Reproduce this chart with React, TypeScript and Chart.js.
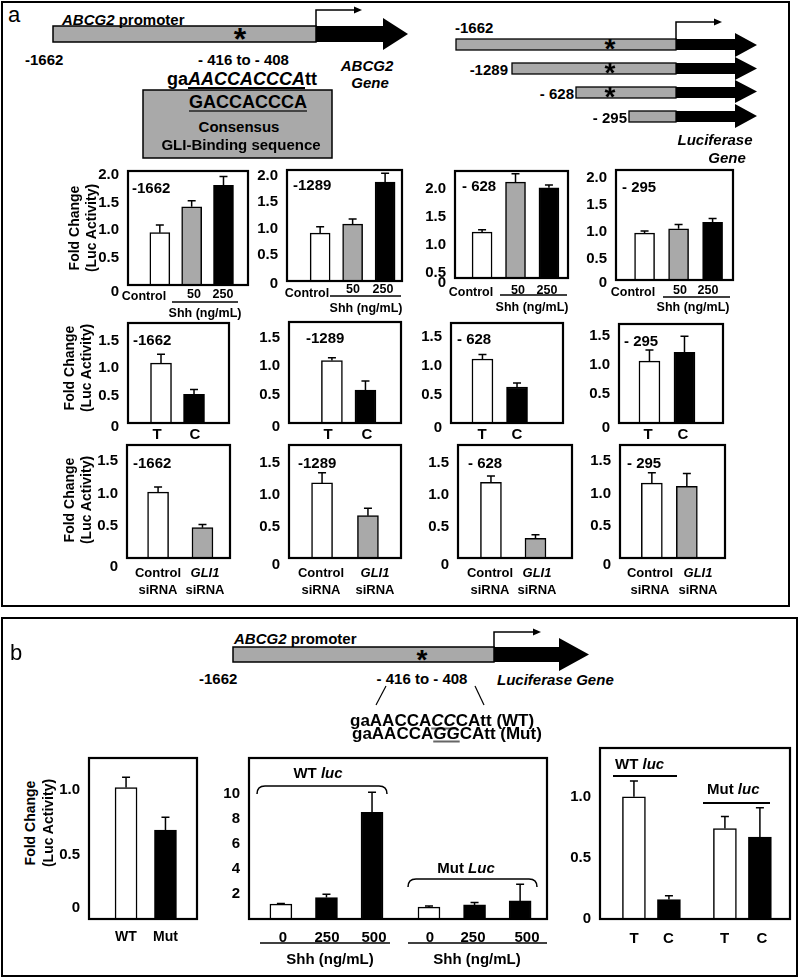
import React, { useEffect, useRef } from 'react';
import { Chart, registerables } from 'chart.js';

Chart.register(...registerables);

const FONT = '"Liberation Sans", Arial, Helvetica, sans-serif';
const WHITE = '#ffffff';
const GREY = '#a9a9a9';
const BLACK = '#000000';

// ---------------- data ----------------
const PROMOTERS = ['-1662', '-1289', '- 628', '- 295'];

const SHH_DOSES = ['Control', '50', '250'];
const SHH_FOLD = [
  [0.95, 1.42, 1.81],
  [0.91, 1.08, 1.88],
  [1.23, 2.12, 2.02],
  [0.98, 1.06, 1.18],
];
const SHH_ERR = [
  [0.14, 0.11, 0.16],
  [0.12, 0.1, 0.17],
  [0.04, 0.15, 0.05],
  [0.04, 0.08, 0.07],
];

const TC_GROUPS = ['T', 'C'];
const TC_FOLD = [
  [1.09, 0.52],
  [1.1, 0.58],
  [1.12, 0.63],
  [1.07, 1.22],
];
const TC_ERR = [
  [0.16, 0.09],
  [0.05, 0.16],
  [0.08, 0.07],
  [0.19, 0.28],
];

const SI_GROUPS = ['Control', 'GLI1'];
const SI_FOLD = [
  [1.02, 0.47],
  [1.19, 0.67],
  [1.2, 0.31],
  [1.16, 1.11],
];
const SI_ERR = [
  [0.08, 0.05],
  [0.16, 0.12],
  [0.1, 0.06],
  [0.16, 0.2],
];

const B_CONSTRUCTS = ['WT', 'Mut'];
const B_FOLD = [1.02, 0.69];
const B_ERR = [0.08, 0.1];

const B_SHH_DOSES = ['0', '250', '500'];
const WT_LUC = [1.19, 1.72, 8.55];
const WT_LUC_ERR = [0.05, 0.26, 1.6];
const MUT_LUC = [0.95, 1.13, 1.45];
const MUT_LUC_ERR = [0.1, 0.19, 1.33];

const B_TC = ['T', 'C'];
const WT_TC = [1.0, 0.16];
const WT_TC_ERR = [0.13, 0.03];
const MUT_TC = [0.74, 0.67];
const MUT_TC_ERR = [0.1, 0.24];

const A_TICKS = [0.5, 1.0, 1.5, 2.0];
const A23_TICKS = [0.5, 1.0, 1.5];
const BM_TICKS = [2, 4, 6, 8, 10];
const BS_TICKS = [0.5, 1.0];

// ---------------- layout ----------------
const AXW = 50;
const PT = 22;
const PB = 22;
const PR = 4;

type Tick = { v: number; t: string };
type BarCfg = {
  box: number[];
  yRange: number[];
  xRange: number[];
  ticks: Tick[];
  pos: number[];
  vals: number[];
  errs: number[];
  colors: string[];
  bw: number;
};

const dec = (arr: number[]) => arr.map((v) => ({ v, t: v.toFixed(1) }));

const R1_BOX = [[128, 171, 248, 285], [287, 170, 402, 281], [455, 171, 568, 278], [616, 170, 733, 280]];
const R1_Y = [[0, 2.07], [0, 2.11], [0.41, 2.32], [0.11, 2.15]];
const R1_ZERO = [-0.12, -0.06, 0.32, 0.06];
const R1_X = [[0, 3.77], [-0.02, 3.52], [0.19, 3.57], [0.16, 3.6]];

const R2_BOX = [[128, 323, 229, 423], [289, 322, 401, 423], [451, 323, 563, 423], [619, 324, 723, 423]];
const R2_Y = [[0, 1.82], [0, 1.78], [0, 1.75], [0, 1.71]];
const R2_ZERO = [-0.07, -0.07, -0.09, -0.09];
const R2_X = [[0, 3.06], [-0.28, 3.06], [0.09, 3.33], [0.13, 3.1]];

const R3_BOX = [[127, 445, 230, 558], [289, 445, 401, 558], [458, 445, 572, 558], [620, 445, 725, 558]];
const R3_Y = [[0, 1.75], [0, 1.79], [0, 1.79], [0, 1.75]];
const R3_ZERO = [-0.13, -0.11, -0.11, -0.11];
const R3_X = [[0.3, 2.62], [0.28, 2.72], [0.26, 2.82], [0.09, 3.09]];

const idx = (n: number) => Array.from({ length: n }, (_, i) => i + 1);

const row1: BarCfg[] = PROMOTERS.map((_, k) => ({
  box: R1_BOX[k],
  yRange: R1_Y[k],
  xRange: R1_X[k],
  ticks: [{ v: R1_ZERO[k], t: '0' }, ...dec(A_TICKS)],
  pos: idx(SHH_DOSES.length),
  vals: SHH_FOLD[k],
  errs: SHH_ERR[k],
  colors: [WHITE, GREY, BLACK],
  bw: 20,
}));

const row2: BarCfg[] = PROMOTERS.map((_, k) => ({
  box: R2_BOX[k],
  yRange: R2_Y[k],
  xRange: R2_X[k],
  ticks: [{ v: R2_ZERO[k], t: '0' }, ...dec(A23_TICKS)],
  pos: idx(TC_GROUPS.length),
  vals: TC_FOLD[k],
  errs: TC_ERR[k],
  colors: [WHITE, BLACK],
  bw: 21,
}));

const row3: BarCfg[] = PROMOTERS.map((_, k) => ({
  box: R3_BOX[k],
  yRange: R3_Y[k],
  xRange: R3_X[k],
  ticks: [{ v: R3_ZERO[k], t: '0' }, ...dec(A23_TICKS)],
  pos: idx(SI_GROUPS.length),
  vals: SI_FOLD[k],
  errs: SI_ERR[k],
  colors: [WHITE, GREY],
  bw: 21,
}));

const bLeft: BarCfg = {
  box: [89, 758, 197, 919],
  yRange: [0, 1.25],
  xRange: [0.06, 2.8],
  ticks: [{ v: 0.085, t: '0' }, ...dec(BS_TICKS)],
  pos: idx(B_CONSTRUCTS.length),
  vals: B_FOLD,
  errs: B_ERR,
  colors: [WHITE, BLACK],
  bw: 22,
};

const bMid: BarCfg = {
  box: [249, 758, 547, 919],
  yRange: [0, 12.9],
  xRange: [0.3, 6.84],
  ticks: BM_TICKS.map((v) => ({ v, t: String(v) })),
  pos: [...B_SHH_DOSES.map((_, i) => i + 1), ...B_SHH_DOSES.map((_, i) => i + 1 + B_SHH_DOSES.length + 0.25)],
  vals: [...WT_LUC, ...MUT_LUC],
  errs: [...WT_LUC_ERR, ...MUT_LUC_ERR],
  colors: [WHITE, BLACK, BLACK, WHITE, BLACK, BLACK],
  bw: 22,
};

const bRight: BarCfg = {
  box: [600, 748, 790, 919],
  yRange: [0, 1.4],
  xRange: [0.03, 5.46],
  ticks: [{ v: 0, t: '0' }, ...dec(BS_TICKS)],
  pos: [...B_TC.map((_, i) => i + 1), ...B_TC.map((_, i) => i + 1 + B_TC.length + 0.6)],
  vals: [...WT_TC, ...MUT_TC],
  errs: [...WT_TC_ERR, ...MUT_TC_ERR],
  colors: [WHITE, BLACK, WHITE, BLACK],
  bw: 23,
};

// ---------------- chart component ----------------
function BarPanel({ cfg }: { cfg: BarCfg }) {
  const ref = useRef<HTMLCanvasElement>(null);
  const [l, t, r, b] = cfg.box;
  const W = AXW + (r - l) + PR;
  const H = PT + (b - t) + PB;

  useEffect(() => {
    const errPlugin = {
      id: 'errbars',
      afterDatasetsDraw(chart: any) {
        const { ctx } = chart;
        const xs = chart.scales.x;
        const ys = chart.scales.y;
        ctx.save();
        ctx.strokeStyle = '#000';
        ctx.lineWidth = 1.5;
        cfg.pos.forEach((p, i) => {
          const px = xs.getPixelForValue(p);
          const y0 = ys.getPixelForValue(cfg.vals[i]);
          const y1 = ys.getPixelForValue(cfg.vals[i] + cfg.errs[i]);
          ctx.beginPath();
          ctx.moveTo(px, y0);
          ctx.lineTo(px, y1);
          ctx.moveTo(px - 4, y1);
          ctx.lineTo(px + 4, y1);
          ctx.stroke();
        });
        ctx.restore();
      },
    };
    const boxPlugin = {
      id: 'plotbox',
      afterDraw(chart: any) {
        const { ctx, chartArea: a } = chart;
        ctx.save();
        ctx.strokeStyle = '#000';
        ctx.lineWidth = 2.2;
        ctx.strokeRect(a.left, a.top, a.right - a.left, a.bottom - a.top);
        ctx.restore();
      },
    };
    const ticks = cfg.ticks;
    const chart = new Chart(ref.current as HTMLCanvasElement, {
      type: 'bar',
      data: {
        datasets: [
          {
            data: cfg.pos.map((p, i) => ({ x: p, y: cfg.vals[i] })),
            backgroundColor: cfg.colors,
            borderColor: '#000',
            borderWidth: 1.5,
            barThickness: cfg.bw,
          } as any,
        ],
      },
      options: {
        animation: false,
        responsive: false,
        events: [],
        layout: { padding: { left: 0, right: PR, top: PT, bottom: PB } },
        plugins: { legend: { display: false }, tooltip: { enabled: false } },
        scales: {
          x: { type: 'linear', min: cfg.xRange[0], max: cfg.xRange[1], display: false, offset: false },
          y: {
            type: 'linear',
            min: cfg.yRange[0],
            max: cfg.yRange[1],
            grid: { display: false, drawTicks: false },
            border: { display: false },
            afterBuildTicks: (s: any) => {
              s.ticks = ticks.map((tk) => ({ value: tk.v }));
            },
            afterFit: (s: any) => {
              s.width = AXW;
            },
            ticks: {
              padding: 9,
              autoSkip: false,
              color: '#000',
              font: { family: FONT, size: 15, weight: 'bold' },
              callback: (_v: any, i: number) => (ticks[i] ? ticks[i].t : ''),
            },
          } as any,
        },
      } as any,
      plugins: [errPlugin, boxPlugin],
    });
    return () => chart.destroy();
  }, []);

  return (
    <canvas
      ref={ref}
      width={W}
      height={H}
      style={{ position: 'absolute', left: l - AXW, top: t - PT, width: W, height: H, display: 'block' }}
    />
  );
}

// ---------------- text helpers ----------------
type TxtProps = {
  x: number;
  y: number;
  s?: number;
  a?: 'start' | 'middle' | 'end';
  w?: number;
  i?: boolean;
  rot?: boolean;
  children: React.ReactNode;
};
function Txt({ x, y, s = 15, a = 'start', w = 700, i = false, rot = false, children }: TxtProps) {
  const tx = a === 'start' ? '0' : a === 'middle' ? '-50%' : '-100%';
  return (
    <div
      style={{
        position: 'absolute',
        left: x,
        top: y,
        transform: rot ? 'translate(-50%, -50%) rotate(-90deg)' : `translate(${tx}, -50%)`,
        fontFamily: FONT,
        fontSize: s,
        fontWeight: w,
        fontStyle: i ? 'italic' : 'normal',
        lineHeight: 1,
        whiteSpace: 'nowrap',
        color: '#000',
      }}
    >
      {children}
    </div>
  );
}

const U = ({ children, c = '#000' }: { children: React.ReactNode; c?: string }) => (
  <span
    style={{
      textDecoration: 'underline',
      textDecorationColor: c,
      textDecorationThickness: '1.5px',
      textUnderlineOffset: '2px',
    }}
  >
    {children}
  </span>
);

const Star = ({ x, y, s = 30 }: { x: number; y: number; s?: number }) => (
  <Txt x={x} y={y + 0.224 * s} s={s} a="middle">
    *
  </Txt>
);

function arrowPoly(x0: number, xh: number, xt: number, y0: number, y1: number, h0: number, h1: number) {
  const ym = (h0 + h1) / 2;
  return `${x0},${y0} ${xh},${y0} ${xh},${h0} ${xt},${ym} ${xh},${h1} ${xh},${y1} ${x0},${y1}`;
}

// construct diagram layout (top right)
const CONSTRUCT_START = [456, 512, 576, 629];
const CONSTRUCT_Y = [[39, 50], [63, 74], [87, 98], [111, 122]];
const CONSTRUCT_HEAD = [[33, 57], [57, 80], [80, 103], [104, 128]];

const R1_LBL = [
  { c: 144, d: [194, 223], dy: 294, cy: 296, line: [172, 238, 302], shh: [205, 313], in: [132, 187] },
  { c: 307, d: [353, 383], dy: 289, cy: 293, line: [330, 401, 296], shh: [366, 308], in: [293, 184] },
  { c: 471, d: [518, 547], dy: 290, cy: 292, line: [500, 567, 295], shh: [532, 307], in: [462, 185] },
  { c: 633, d: [680, 708], dy: 290, cy: 292, line: [663, 730, 297], shh: [693, 307], in: [622, 186] },
];
const R2_LBL = [
  { t: [157, 195], in: [133, 339] },
  { t: [328, 367], in: [306, 337] },
  { t: [482, 517], in: [457, 338] },
  { t: [648, 683], in: [624, 340] },
];
const R3_LBL = [
  { t: [158, 205], in: [133, 462] },
  { t: [321, 375], in: [298, 462] },
  { t: [490, 537], in: [468, 462] },
  { t: [650, 698], in: [627, 462] },
];

export default function App() {
  return (
    <div style={{ position: 'absolute', left: 0, top: 0, width: 800, height: 979, background: '#fff', overflow: 'hidden' }}>
      <svg width={800} height={979} style={{ position: 'absolute', left: 0, top: 0 }}>
        {/* panel borders */}
        <rect x={2} y={2} width={787} height={604} fill="none" stroke="#000" strokeWidth={2} />
        <rect x={2} y={618} width={795} height={358} fill="none" stroke="#000" strokeWidth={2} />

        {/* panel a: promoter diagram */}
        <rect x={53} y={26} width={263} height={16} fill={GREY} stroke="#000" strokeWidth={1.5} />
        <polygon points={arrowPoly(316, 383, 408, 26, 42, 18, 50)} fill="#000" />
        <polyline points="316,26 316,10 356,10" fill="none" stroke="#000" strokeWidth={1.5} />
        <polygon points="354,6.5 362,10 354,13.5" fill="#000" />
        <rect x={143} y={90} width={189} height={68} fill={GREY} stroke="#000" strokeWidth={1.5} />

        {/* panel a: deletion constructs */}
        {CONSTRUCT_START.map((x0, k) => (
          <g key={k}>
            <rect x={x0} y={CONSTRUCT_Y[k][0]} width={676 - x0} height={CONSTRUCT_Y[k][1] - CONSTRUCT_Y[k][0]} fill={GREY} stroke="#000" strokeWidth={1.3} />
            <polygon points={arrowPoly(676, 735, 757, CONSTRUCT_Y[k][0], CONSTRUCT_Y[k][1], CONSTRUCT_HEAD[k][0], CONSTRUCT_HEAD[k][1])} fill="#000" />
          </g>
        ))}
        <polyline points="676,39 676,22 716,22" fill="none" stroke="#000" strokeWidth={1.5} />
        <polygon points="714,18.5 722,22 714,25.5" fill="#000" />

        {/* row 1 Shh underlines */}
        {R1_LBL.map((o, k) => (
          <line key={k} x1={o.line[0]} x2={o.line[1]} y1={o.line[2]} y2={o.line[2]} stroke="#000" strokeWidth={1.5} />
        ))}

        {/* panel b: promoter diagram */}
        <rect x={233} y={647} width={261} height={15} fill={GREY} stroke="#000" strokeWidth={1.5} />
        <polygon points={arrowPoly(494, 559, 589, 647, 662, 638, 671)} fill="#000" />
        <polyline points="494,647 494,632 535,632" fill="none" stroke="#000" strokeWidth={1.5} />
        <polygon points="533,628.5 541,632 533,635.5" fill="#000" />
        <line x1={386} y1={686} x2={376} y2={705} stroke="#000" strokeWidth={1.2} />
        <line x1={475} y1={686} x2={484} y2={705} stroke="#000" strokeWidth={1.2} />

        {/* panel b brackets and lines */}
        <path d="M257,794 Q257,786 265,786 L379,786 Q387,786 387,794" fill="none" stroke="#000" strokeWidth={1.5} />
        <path d="M408,887 Q408,879 416,879 L529,879 Q537,879 537,887" fill="none" stroke="#000" strokeWidth={1.5} />
        <line x1={260} x2={390} y1={943} y2={943} stroke="#000" strokeWidth={1.5} />
        <line x1={408} x2={547} y1={943} y2={943} stroke="#000" strokeWidth={1.5} />
        <line x1={613} x2={677} y1={776} y2={776} stroke="#000" strokeWidth={2} />
        <line x1={703} x2={770} y1={803} y2={803} stroke="#000" strokeWidth={2} />
      </svg>

      {/* charts */}
      {row1.map((c, k) => (
        <BarPanel key={'r1' + k} cfg={c} />
      ))}
      {row2.map((c, k) => (
        <BarPanel key={'r2' + k} cfg={c} />
      ))}
      {row3.map((c, k) => (
        <BarPanel key={'r3' + k} cfg={c} />
      ))}
      <BarPanel cfg={bLeft} />
      <BarPanel cfg={bMid} />
      <BarPanel cfg={bRight} />

      {/* ---- panel a texts ---- */}
      <Txt x={8} y={15} s={22} w={400}>a</Txt>
      <Txt x={62} y={18.5}>
        <i>ABCG2</i> promoter
      </Txt>
      <Star x={240} y={32} s={32} />
      <Txt x={25} y={58.5}>-1662</Txt>
      <Txt x={243.5} y={58.5} a="middle">- 416 to - 408</Txt>
      <Txt x={167} y={79} s={18}>
        ga<U><i>AACCACCCA</i></U>tt
      </Txt>
      <Txt x={367} y={65} a="middle" i>ABCG2</Txt>
      <Txt x={370} y={82} a="middle" i>Gene</Txt>
      <Txt x={248} y={101.5} s={18} a="middle">
        <U c="#444">GACCACCCA</U>
      </Txt>
      <Txt x={239} y={125.5} a="middle">Consensus</Txt>
      <Txt x={241} y={143.5} a="middle">GLI-Binding sequence</Txt>

      <Txt x={455} y={27}>{PROMOTERS[0]}</Txt>
      <Txt x={508} y={69} a="end">{PROMOTERS[1]}</Txt>
      <Txt x={574} y={93} a="end">{PROMOTERS[2]}</Txt>
      <Txt x={627} y={117} a="end">{PROMOTERS[3]}</Txt>
      <Star x={610} y={43} s={28} />
      <Star x={610} y={67} s={28} />
      <Star x={610} y={91} s={28} />
      <Txt x={715} y={138.5} a="middle" i>Luciferase</Txt>
      <Txt x={727} y={157} a="middle" i>Gene</Txt>

      {/* y-axis titles */}
      {[[74, 91, 228], [69, 86, 368], [69, 86, 500], [30, 47.5, 823]].map((p, k) => (
        <React.Fragment key={'yt' + k}>
          <Txt x={p[0]} y={p[2]} s={14} rot>Fold Change</Txt>
          <Txt x={p[1]} y={p[2]} s={14} rot>(Luc Activity)</Txt>
        </React.Fragment>
      ))}

      {/* row 1 labels */}
      {R1_LBL.map((o, k) => (
        <React.Fragment key={'l1' + k}>
          <Txt x={o.in[0]} y={o.in[1]}>{PROMOTERS[k]}</Txt>
          <Txt x={o.c} y={o.cy} s={12.5} a="middle">{SHH_DOSES[0]}</Txt>
          <Txt x={o.d[0]} y={o.dy} s={12.5} a="middle">{SHH_DOSES[1]}</Txt>
          <Txt x={o.d[1]} y={o.dy} s={12.5} a="middle">{SHH_DOSES[2]}</Txt>
          <Txt x={o.shh[0]} y={o.shh[1]} s={12.5} a="middle">Shh (ng/mL)</Txt>
        </React.Fragment>
      ))}

      {/* row 2 labels */}
      {R2_LBL.map((o, k) => (
        <React.Fragment key={'l2' + k}>
          <Txt x={o.in[0]} y={o.in[1]}>{PROMOTERS[k]}</Txt>
          <Txt x={o.t[0]} y={433} a="middle">{TC_GROUPS[0]}</Txt>
          <Txt x={o.t[1]} y={433} a="middle">{TC_GROUPS[1]}</Txt>
        </React.Fragment>
      ))}

      {/* row 3 labels */}
      {R3_LBL.map((o, k) => (
        <React.Fragment key={'l3' + k}>
          <Txt x={o.in[0]} y={o.in[1]}>{PROMOTERS[k]}</Txt>
          <Txt x={o.t[0]} y={572} s={13} a="middle">{SI_GROUPS[0]}</Txt>
          <Txt x={o.t[1]} y={572} s={13} a="middle" i>{SI_GROUPS[1]}</Txt>
          <Txt x={o.t[0]} y={589} s={13} a="middle">siRNA</Txt>
          <Txt x={o.t[1]} y={589} s={13} a="middle">siRNA</Txt>
        </React.Fragment>
      ))}

      {/* ---- panel b texts ---- */}
      <Txt x={10} y={653} s={22} w={400}>b</Txt>
      <Txt x={234} y={638}>
        <i>ABCG2</i> promoter
      </Txt>
      <Star x={422} y={654} s={28} />
      <Txt x={199} y={678}>-1662</Txt>
      <Txt x={422} y={678} a="middle">- 416 to - 408</Txt>
      <Txt x={497} y={679} i>Luciferase Gene</Txt>
      <Txt x={350} y={720} s={17}>
        gaAACCA<U c="#666"><i>CC</i></U>CAtt (WT)
      </Txt>
      <Txt x={352} y={733} s={17}>
        gaAACCA<U c="#666"><i>GG</i></U>CAtt (Mut)
      </Txt>

      <Txt x={126} y={936} s={14} a="middle">{B_CONSTRUCTS[0]}</Txt>
      <Txt x={165.5} y={936} s={14} a="middle">{B_CONSTRUCTS[1]}</Txt>

      <Txt x={318} y={772} a="middle">
        WT <i>luc</i>
      </Txt>
      <Txt x={466} y={867} a="middle">
        Mut <i>Luc</i>
      </Txt>
      {[283, 327, 374].map((x, i) => (
        <Txt key={'bw' + i} x={x} y={936} a="middle">{B_SHH_DOSES[i]}</Txt>
      ))}
      {[430, 473, 527].map((x, i) => (
        <Txt key={'bm' + i} x={x} y={936} a="middle">{B_SHH_DOSES[i]}</Txt>
      ))}
      <Txt x={330} y={958} a="middle">Shh (ng/mL)</Txt>
      <Txt x={477} y={958} a="middle">Shh (ng/mL)</Txt>

      <Txt x={615} y={763}>
        WT <i>luc</i>
      </Txt>
      <Txt x={707} y={788}>
        Mut <i>luc</i>
      </Txt>
      {[634, 668.5, 724.5, 762].map((x, i) => (
        <Txt key={'btc' + i} x={x} y={937} a="middle">{B_TC[i % 2]}</Txt>
      ))}
    </div>
  );
}
